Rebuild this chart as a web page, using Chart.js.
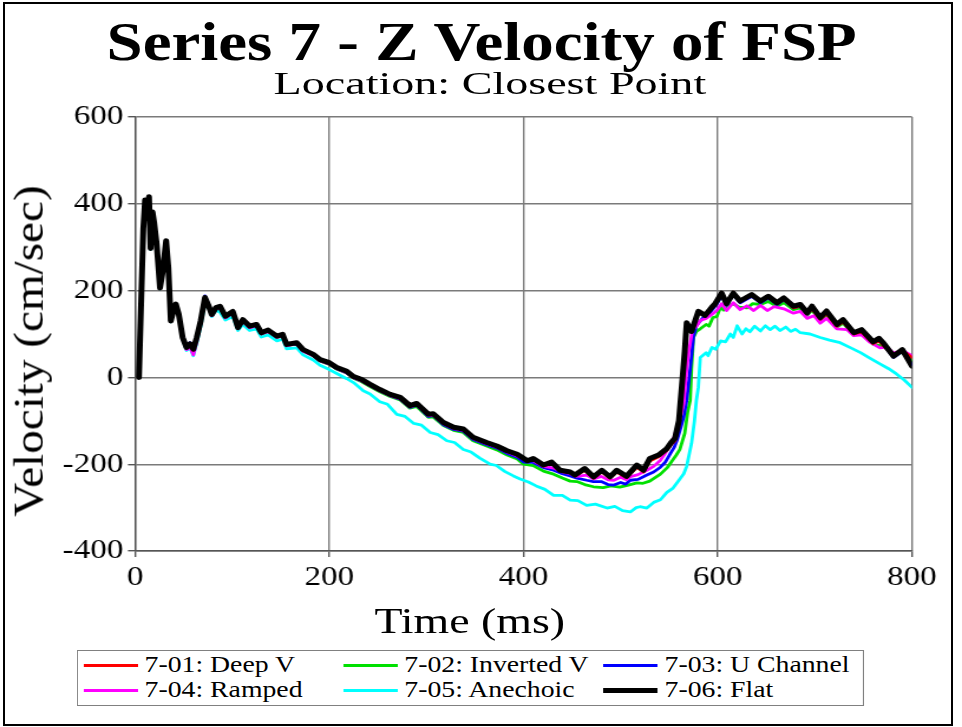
<!DOCTYPE html>
<html lang="en">
<head>
  <meta charset="UTF-8">
  <title>Series 7 - Z Velocity of FSP</title>
  <script src="https://cdn.jsdelivr.net/npm/chart.js"></script>
  <style>
    body {
      margin: 0;
      padding: 0;
      background: #fff;
      width: 962px;
      height: 727px;
      overflow: hidden;
      position: relative;
    }

    .frame {
      position: absolute;
      left: 3px;
      top: 2px;
      width: 946px;
      height: 720px;
      border: 2px solid #000;
    }

    /* the whole sheet is laid out narrow and stretched sideways */
    .sheet {
      position: absolute;
      left: 0;
      top: 0;
      width: 815px;
      height: 727px;
      transform: scaleX(1.1804);
      transform-origin: 0 0;
      font-family: "Liberation Serif", "DejaVu Serif", serif;
      color: #000;
    }

    canvas {
      position: absolute;
      left: 0;
      top: 0;
    }

    .txt {
      position: absolute;
      white-space: nowrap;
      text-align: center;
    }

    .title {
      left: 0;
      width: 816px;
      top: 14px;
      font-size: 55px;
      line-height: 55px;
      font-weight: bold;
    }

    .subtitle {
      left: 6.7px;
      width: 816px;
      top: 67px;
      font-size: 32px;
      line-height: 32px;
      transform: scaleX(1.22);
    }

    .xtitle {
      left: 198.2px;
      width: 400px;
      top: 604px;
      font-size: 35px;
      line-height: 35px;
      transform: scaleX(1.11);
    }

    .ytitle {
      left: 23.7px;
      top: 351px;
      width: 500px;
      font-size: 36px;
      line-height: 36px;
      transform: translate(-50%, -50%) rotate(-90deg) scale(1.31, 1);
    }

    .legend {
      position: absolute;
      left: 65px;
      top: 650px;
      width: 667px;
      height: 56px;
      border: 1px solid #808080;
      box-sizing: border-box;
      background: #fff;
    }

    .legend .item {
      position: absolute;
      height: 24px;
      font-size: 23.5px;
      line-height: 24px;
      white-space: nowrap;
    }

    .legend .swatch {
      display: inline-block;
      width: 46px;
      vertical-align: middle;
      margin-right: 6px;
      position: relative;
      top: -1px;
    }
  </style>
</head>
<body>
  <div class="frame"></div>
  <div class="sheet">
    <canvas id="velocityChart" width="815" height="727"></canvas>
    <div class="txt title">Series 7 - Z Velocity of FSP</div>
    <div class="txt subtitle">Location: Closest Point</div>
    <div class="txt xtitle">Time (ms)</div>
    <div class="txt ytitle">Velocity (cm/sec)</div>
    <div class="legend" id="legend"></div>
  </div>

  <script>
    // [time ms, velocity cm/sec]
    const deepV = [
      [4,0],[8.5,343],[10.3,409],[12,370],[14.4,416],[16,297],[18,381],[19.6,358],[22.3,306],[25.7,206],
      [28.5,245],[32,315],[34.3,253],[36.8,130],[39.5,153],[42,169],[45,146],[49,92],[53,68],[56.6,76],
      [60,63],[63.5,90],[67.6,130],[72,184],[75.5,166],[79,145],[83.4,160],[87.5,163],[93,140],[100.6,151],
      [106,114],[111,132],[118,117],[125,121],[130,102],[137,108],[146,94],[152,98],[156,75],[166.5,79],
      [173,63],[183.5,52],[190.5,40],[200,33],[207.7,22],[218,13],[225,1],[233.5,-6],[242,-17],[252,-29],
      [262.6,-40],[273,-47],[283,-66],[290,-61],[302,-86],[307,-85],[317.5,-105],[328,-116],[338,-120],[348,-139],
      [362,-151],[372.5,-159],[383,-170],[393.5,-179],[404,-192],[410,-189],[420.5,-204],[429,-198],[437.7,-216],[448,-220],
      [453,-227],[463,-214],[472,-232],[480.6,-218],[489,-232],[496,-218],[506,-231],[516.7,-207],[523.5,-218],[530,-193],
      [539,-183],[547.6,-168],[552,-155],[556,-146],[560,-110],[563,-40],[566,40],[568,118],[573,104],[580,150],
      [587,142],[594,160],[597,168],[604,196],[609,172],[616,196],[623,178],[635,190],[644,176],[652,185],
      [661,170],[668,180],[678,160],[685,164],[692,146],[697,158],[705.5,134],[712,147],[722.6,118],[729,128],
      [740,100],[748,105],[760,78],[766,84],[771,72],[781,50],[790,62],[800,46]
    ];

    const invertedV = [
      [4,0],[8.5,342],[10.3,408],[12,369],[14.4,415],[16,296],[18,380],[19.6,357],[22.3,305],[25.7,205],
      [28.5,244],[32,314],[34.3,252],[36.8,129],[39.5,152],[42,168],[45,145],[49,90],[53,66],[56.6,73],
      [60,60],[63.5,86],[67.6,124],[72,178],[75.5,168],[79,143],[83.4,158],[87.5,160],[93,138],[100.6,148],
      [106,112],[111,130],[118,115],[125,119],[130,100],[137,106],[146,92],[152,96],[156,73],[166.5,77],
      [173,61],[183.5,50],[190.5,38],[200,30],[207.7,19],[218,10],[225,-2],[233.5,-10],[242,-21],[252,-33],
      [262.6,-44],[273,-52],[283,-71],[290,-67],[302,-92],[307,-91],[317.5,-111],[328,-122],[338,-127],[348,-146],
      [362,-158],[372.5,-167],[383,-179],[393.5,-188],[400,-200],[410,-203],[420.5,-216],[431,-223],[440,-232],[448,-239],
      [455,-240],[463,-247],[472,-252],[482,-254],[490,-250],[499,-253],[508,-248],[516.7,-243],[523,-244],[530,-239],
      [541,-223],[548,-208],[552.7,-193],[557,-180],[561,-166],[566,-129],[569,-80],[571.6,-53],[573,20],[575,92],
      [578,106],[582,112],[588,122],[591,118],[595,138],[599,140],[603,162],[606,155],[610,165],[616,170],
      [622,162],[630,160],[636,170],[644,168],[652,175],[661,164],[668,172],[678,156],[685,160],[692,143],
      [697,155],[705.5,132],[712,144],[722.6,116],[729,125],[740,98],[748,104],[760,76],[771,72],[781,50],
      [790,58],[800,38]
    ];

    const uChannel = [
      [4,0],[8.5,343],[10.3,409],[12,370],[14.4,416],[16,297],[18,381],[19.6,358],[22.3,306],[25.7,206],
      [28.5,245],[32,315],[34.3,253],[36.8,130],[39.5,153],[42,170],[45,147],[49,94],[53,72],[56.6,80],
      [60,68],[63.5,95],[67.6,134],[72,188],[75.5,170],[79,147],[83.4,162],[87.5,163],[93,140],[100.6,150],
      [106,114],[111,131],[118,116],[125,120],[130,101],[137,107],[146,93],[152,97],[156,74],[166.5,78],
      [173,62],[183.5,51],[190.5,39],[200,31],[207.7,20],[218,11],[225,-1],[233.5,-8],[242,-19],[252,-31],
      [262.6,-42],[273,-50],[283,-69],[290,-64],[302,-90],[307,-88],[317.5,-109],[328,-120],[338,-124],[348,-143],
      [362,-155],[372.5,-163],[383,-175],[393.5,-184],[400,-195],[410,-196],[420.5,-208],[431,-214],[440,-222],[448,-227],
      [455,-232],[465,-237],[472,-240],[480,-240],[487,-247],[493,-248],[500,-242],[505,-246],[510,-237],[518,-235],
      [527,-225],[534,-218],[541,-207],[546,-195],[551,-176],[555,-162],[558,-145],[562,-115],[565,-91],[568,-53],
      [571.6,19],[575,94],[578,119],[585,138],[590,142],[594,155],[599,169],[604,188],[609,166],[616,190],
      [623,172],[635,187],[644,172],[652,183],[661,168],[668,179],[678,160],[685,164],[692,145],[697,160],
      [705.5,134],[712,149],[722.6,118],[729,129],[740,99],[748,106],[760,78],[766,86],[771,74],[781,46],
      [790,60],[800,30]
    ];

    const ramped = [
      [4,0],[8.5,342],[10.3,408],[12,369],[14.4,414],[16,296],[18,380],[19.6,357],[22.3,305],[25.7,205],
      [28.5,244],[32,314],[34.3,252],[36.8,129],[39.5,151],[42,168],[45,145],[49,90],[53,64],[56.6,70],
      [60,52],[63.5,82],[67.6,124],[72,180],[75.5,166],[79,142],[83.4,158],[87.5,160],[93,137],[100.6,148],
      [106,112],[111,129],[118,114],[125,119],[130,100],[137,106],[146,92],[152,96],[156,73],[166.5,77],
      [173,60],[183.5,50],[190.5,38],[200,31],[207.7,20],[218,11],[225,-1],[233.5,-8],[242,-19],[252,-31],
      [262.6,-42],[273,-49],[283,-68],[290,-63],[302,-88],[307,-87],[317.5,-107],[328,-118],[338,-122],[348,-141],
      [362,-153],[372.5,-161],[383,-172],[393.5,-181],[400,-188],[410,-192],[420.5,-205],[431,-209],[440,-218],[448,-222],
      [455,-228],[465,-225],[472,-234],[480,-228],[487,-236],[493,-237],[500,-230],[506,-236],[510,-229],[518,-224],
      [527,-214],[534,-205],[541,-191],[546,-175],[551,-153],[555,-138],[558,-115],[562,-88],[565,-60],[568,20],
      [570,57],[574,110],[578,118],[582,131],[588,136],[594,145],[599,154],[604,170],[609,154],[616,172],
      [623,156],[630,165],[637,154],[644,166],[651,154],[658,163],[668,158],[678,148],[685,152],[692,136],
      [699,142],[705.5,125],[712,136],[722.6,112],[733,110],[740,96],[748,98],[756,82],[767,68],[774,70],
      [781,56],[790,62],[800,50]
    ];

    const anechoic = [
      [4,0],[8.5,340],[10.3,405],[12,368],[14.4,412],[16,295],[18,378],[19.6,355],[22.3,303],[25.7,204],
      [28.5,243],[32,312],[34.3,250],[36.8,128],[39.5,150],[42,166],[45,143],[49,88],[53,62],[56.6,68],
      [60,50],[63.5,78],[67.6,118],[72,170],[75.5,168],[79,140],[83.4,155],[87.5,150],[93,132],[100.6,140],
      [106,108],[111,122],[118,108],[125,112],[130,93],[137,98],[146,84],[152,88],[156,66],[166.5,68],
      [173,52],[183.5,40],[190.5,28],[200,18],[207.7,9],[218,-3],[225,-12],[235,-31],[242,-38],[252,-56],
      [260,-62],[269.5,-85],[278,-90],[287,-106],[295,-110],[304,-127],[312,-132],[321,-146],[329,-150],[338,-166],
      [346,-172],[355,-186],[365.6,-200],[372,-203],[381,-217],[389.6,-227],[396.5,-234],[405,-241],[413,-250],[422,-258],
      [431,-272],[440,-272],[448,-283],[456,-284],[465,-295],[474,-292],[486,-301],[494,-297],[502,-307],[510,-310],
      [516,-300],[520,-298],[527,-301],[534,-288],[541,-282],[547.6,-265],[554,-255],[561,-234],[565,-222],[568,-205],
      [573,-152],[576,-100],[578,-53],[580,-23],[582,46],[588,57],[590,50],[594,69],[598,65],[603,84],
      [608,82],[613,100],[616,92],[620,119],[625,100],[629,112],[633,105],[638,118],[644,107],[649,119],
      [654,110],[659,118],[664,108],[670,116],[675,106],[680,111],[685,103],[695,100],[705.5,92],[715,86],
      [726,80],[737,68],[747,57],[757,44],[767,31],[776,20],[784,8],[792,-6],[800,-23]
    ];

    const flat = [
      [4,0],[8.5,343],[10.3,409],[12,370],[14.4,416],[16,297],[18,381],[19.6,358],[22.3,306],[25.7,206],
      [28.5,245],[32,315],[34.3,253],[36.8,130],[39.5,153],[42,169],[45,146],[49,92],[53,69],[56.6,77],
      [60,65],[63.5,92],[67.6,130],[72,184],[75.5,166],[79,145],[83.4,161],[87.5,164],[93,141],[100.6,152],
      [106,115],[111,133],[118,118],[125,122],[130,103],[137,109],[146,95],[152,99],[156,76],[166.5,80],
      [173,64],[183.5,53],[190.5,41],[200,34],[207.7,23],[218,14],[225,2],[233.5,-5],[242,-16],[252,-28],
      [262.6,-39],[273,-46],[283,-65],[290,-60],[302,-85],[307,-84],[317.5,-104],[328,-115],[338,-119],[348,-138],
      [362,-150],[372.5,-158],[383,-169],[393.5,-177],[404,-192],[410,-187],[420.5,-202],[429,-195],[437.7,-214],[448,-218],
      [453,-225],[463,-210],[472,-229],[480.6,-214],[489,-229],[496,-214],[506,-228],[516.7,-202],[523.5,-214],[530,-187],
      [539,-179],[547.6,-164],[552,-150],[556,-140],[560,-100],[563,-20],[566,60],[568,126],[573,106],[580,152],
      [587,143],[594,162],[597,169],[604,194],[609,170],[616,194],[623,176],[635,191],[644,176],[652,187],
      [661,172],[668,183],[678,164],[685,168],[692,149],[697,164],[705.5,138],[712,153],[722.6,122],[729,133],
      [740,103],[748,110],[760,82],[766,90],[771,78],[781,49],[790,64],[800,26]
    ];

    const seriesLabels = ['7-01: Deep V', '7-02: Inverted V', '7-03: U Channel',
                          '7-04: Ramped', '7-05: Anechoic', '7-06: Flat'];
    const seriesData = [deepV, invertedV, uChannel, ramped, anechoic, flat];
    const seriesColors = ['#ff0000', '#00e000', '#0000ff', '#ff00ff', '#00ffff', '#000000'];
    const seriesWidths = [2.8, 2.8, 2.8, 2.8, 2.8, 5];
    // lower order is painted last, so Flat ends up on top
    const seriesOrder = [1, 4, 3, 2, 5, 0];

    const xTicks = [0, 200, 400, 600, 800];
    const yTicks = [-400, -200, 0, 200, 400, 600];

    const datasets = seriesData.map((rows, i) => ({
      label: seriesLabels[i],
      data: rows.map(r => ({ x: r[0], y: r[1] })),
      borderColor: seriesColors[i],
      backgroundColor: seriesColors[i],
      borderWidth: seriesWidths[i],
      pointRadius: 0,
      tension: 0,
      borderJoinStyle: 'round',
      borderCapStyle: 'round',
      order: seriesOrder[i]
    }));

    const tickFont = { family: "'Liberation Serif', 'DejaVu Serif', serif", size: 28 };

    new Chart(document.getElementById('velocityChart'), {
      type: 'line',
      data: { datasets },
      options: {
        responsive: false,
        animation: false,
        layout: { padding: { left: 4.4, right: 42.4, top: 117, bottom: 116 } },
        plugins: { legend: { display: false }, tooltip: { enabled: false } },
        scales: {
          x: {
            type: 'linear',
            min: 0,
            max: 800,
            afterBuildTicks: axis => { axis.ticks = xTicks.map(v => ({ value: v })); },
            afterFit: axis => { axis.height = 60; },
            ticks: { font: tickFont, color: '#000', padding: 4, maxRotation: 0 },
            grid: { color: '#7a7a7a', lineWidth: 1.4, tickLength: 6, tickColor: '#555' },
            border: { display: true, color: '#555', width: 1.4 }
          },
          y: {
            min: -400,
            max: 600,
            afterBuildTicks: axis => { axis.ticks = yTicks.map(v => ({ value: v })); },
            afterFit: axis => { axis.width = 110; },
            ticks: { font: tickFont, color: '#000', padding: 4 },
            grid: { color: '#7a7a7a', lineWidth: 1.4, tickLength: 6, tickColor: '#555' },
            border: { display: true, color: '#555', width: 1.4 }
          }
        }
      }
    });

    // legend laid out in two rows of three, like the source sheet
    const legendSlots = [
      [4.5, 1], [224.5, 1], [445, 1],
      [4.5, 26], [224.5, 26], [445, 26]
    ];
    const legendBox = document.getElementById('legend');
    seriesLabels.forEach((label, i) => {
      const item = document.createElement('div');
      item.className = 'item';
      item.style.left = legendSlots[i][0] + 'px';
      item.style.top = legendSlots[i][1] + 'px';
      const swatch = document.createElement('span');
      swatch.className = 'swatch';
      swatch.style.borderTop = (i === 5 ? 5 : 3) + 'px solid ' + seriesColors[i];
      item.appendChild(swatch);
      item.appendChild(document.createTextNode(label));
      legendBox.appendChild(item);
    });
  </script>
</body>
</html>
